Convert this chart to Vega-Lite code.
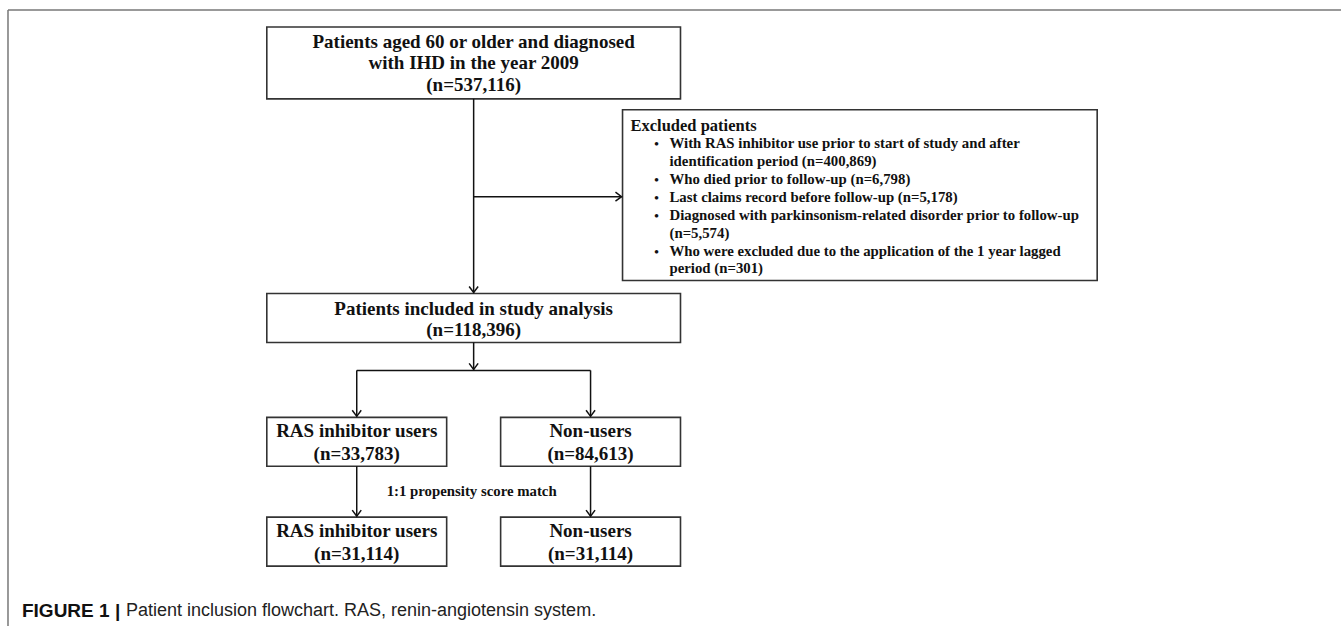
{
  "$schema": "https://vega.github.io/schema/vega-lite/v6.json",
  "width": 1342,
  "height": 627,
  "autosize": {"type": "fit", "contains": "padding"},
  "padding": 0,
  "background": "white",
  "config": {"view": {"stroke": null}},
  "datasets": {
    "frame": [
      {"x": 8, "y": 10, "x2": 1342, "y2": 10},
      {"x": 8, "y": 10, "x2": 8, "y2": 627}
    ],
    "boxes": [
      {"x": 267, "x2": 681, "y": 27, "y2": 99},
      {"x": 623, "x2": 1098, "y": 110, "y2": 281},
      {"x": 267, "x2": 681, "y": 294, "y2": 343},
      {"x": 267, "x2": 447, "y": 418, "y2": 467},
      {"x": 501, "x2": 681, "y": 418, "y2": 467},
      {"x": 267, "x2": 447, "y": 518, "y2": 567},
      {"x": 501, "x2": 681, "y": 518, "y2": 567}
    ],
    "lines": [
      {"x": 474, "y": 99, "x2": 474, "y2": 293},
      {"x": 474, "y": 197, "x2": 622, "y2": 197},
      {"x": 474, "y": 343, "x2": 474, "y2": 370},
      {"x": 357, "y": 371, "x2": 591, "y2": 371},
      {"x": 357, "y": 371, "x2": 357, "y2": 417},
      {"x": 591, "y": 371, "x2": 591, "y2": 417},
      {"x": 357, "y": 467, "x2": 357, "y2": 517},
      {"x": 591, "y": 467, "x2": 591, "y2": 517}
    ],
    "arrows": [
      {"x": 474, "y": 293, "dir": 0},
      {"x": 622, "y": 197, "dir": -90},
      {"x": 474, "y": 370, "dir": 0},
      {"x": 357, "y": 417, "dir": 0},
      {"x": 591, "y": 417, "dir": 0},
      {"x": 357, "y": 517, "dir": 0},
      {"x": 591, "y": 517, "dir": 0}
    ],
    "heads": [
      {"x": 474, "y": 42, "t": "Patients aged 60 or older and diagnosed"},
      {"x": 474, "y": 63, "t": "with IHD in the year 2009"},
      {"x": 474, "y": 85, "t": "(n=537,116)"},
      {"x": 474, "y": 309, "t": "Patients included in study analysis"},
      {"x": 474, "y": 331, "t": "(n=118,396)"},
      {"x": 357, "y": 432, "t": "RAS inhibitor users"},
      {"x": 357, "y": 455, "t": "(n=33,783)"},
      {"x": 591, "y": 432, "t": "Non-users"},
      {"x": 591, "y": 455, "t": "(n=84,613)"},
      {"x": 357, "y": 532, "t": "RAS inhibitor users"},
      {"x": 357, "y": 555, "t": "(n=31,114)"},
      {"x": 591, "y": 532, "t": "Non-users"},
      {"x": 591, "y": 555, "t": "(n=31,114)"}
    ],
    "exclHead": [
      {"x": 631, "y": 126, "t": "Excluded patients"}
    ],
    "excl": [
      {"x": 670, "y": 144, "t": "With RAS inhibitor use prior to start of study and after"},
      {"x": 670, "y": 162, "t": "identification period (n=400,869)"},
      {"x": 670, "y": 180, "t": "Who died prior to follow-up (n=6,798)"},
      {"x": 670, "y": 198, "t": "Last claims record before follow-up (n=5,178)"},
      {"x": 670, "y": 216, "t": "Diagnosed with parkinsonism-related disorder prior to follow-up"},
      {"x": 670, "y": 234, "t": "(n=5,574)"},
      {"x": 670, "y": 252, "t": "Who were excluded due to the application of the 1 year lagged"},
      {"x": 670, "y": 269, "t": "period (n=301)"}
    ],
    "bullets": [
      {"x": 657, "y": 144, "t": "•"},
      {"x": 657, "y": 180, "t": "•"},
      {"x": 657, "y": 198, "t": "•"},
      {"x": 657, "y": 216, "t": "•"},
      {"x": 657, "y": 252, "t": "•"}
    ],
    "match": [
      {"x": 472, "y": 493, "t": "1:1 propensity score match"}
    ],
    "capBold": [
      {"x": 22, "y": 612, "t": "FIGURE 1 |"}
    ],
    "capText": [
      {"x": 126, "y": 612, "t": "Patient inclusion flowchart. RAS, renin-angiotensin system."}
    ]
  },
  "encoding": {
    "x": {"field": "x", "type": "quantitative", "scale": {"domain": [0, 1342], "nice": false, "zero": false}, "axis": null},
    "y": {"field": "y", "type": "quantitative", "scale": {"domain": [0, 627], "nice": false, "zero": false, "reverse": true}, "axis": null}
  },
  "layer": [
    {
      "data": {"name": "frame"},
      "mark": {"type": "rule", "color": "#777777", "strokeWidth": 1.5},
      "encoding": {"x2": {"field": "x2"}, "y2": {"field": "y2"}}
    },
    {
      "data": {"name": "boxes"},
      "mark": {"type": "rect", "fill": "white", "stroke": "#333333", "strokeWidth": 1.6},
      "encoding": {"x2": {"field": "x2"}, "y2": {"field": "y2"}}
    },
    {
      "data": {"name": "lines"},
      "mark": {"type": "rule", "color": "#111111", "strokeWidth": 1.5},
      "encoding": {"x2": {"field": "x2"}, "y2": {"field": "y2"}}
    },
    {
      "data": {"name": "arrows"},
      "mark": {"type": "point", "shape": "M-1,-1.35L0,0L1,-1.35", "filled": false, "stroke": "#111111", "strokeWidth": 1.5, "size": 81, "opacity": 1},
      "encoding": {"angle": {"field": "dir", "type": "quantitative", "scale": null}}
    },
    {
      "data": {"name": "heads"},
      "mark": {"type": "text", "font": "Liberation Serif", "fontWeight": "bold", "fontSize": 19, "align": "center", "baseline": "middle", "color": "#111111"},
      "encoding": {"text": {"field": "t"}}
    },
    {
      "data": {"name": "exclHead"},
      "mark": {"type": "text", "font": "Liberation Serif", "fontWeight": "bold", "fontSize": 16.5, "align": "left", "baseline": "middle", "color": "#111111"},
      "encoding": {"text": {"field": "t"}}
    },
    {
      "data": {"name": "excl"},
      "mark": {"type": "text", "font": "Liberation Serif", "fontWeight": "bold", "fontSize": 14.8, "align": "left", "baseline": "middle", "color": "#111111"},
      "encoding": {"text": {"field": "t"}}
    },
    {
      "data": {"name": "bullets"},
      "mark": {"type": "text", "font": "Liberation Serif", "fontWeight": "bold", "fontSize": 13, "align": "center", "baseline": "middle", "color": "#111111"},
      "encoding": {"text": {"field": "t"}}
    },
    {
      "data": {"name": "match"},
      "mark": {"type": "text", "font": "Liberation Serif", "fontWeight": "bold", "fontSize": 14.8, "align": "center", "baseline": "middle", "color": "#111111"},
      "encoding": {"text": {"field": "t"}}
    },
    {
      "data": {"name": "capBold"},
      "mark": {"type": "text", "font": "Liberation Sans", "fontWeight": "bold", "fontSize": 19, "align": "left", "baseline": "middle", "color": "#111111"},
      "encoding": {"text": {"field": "t"}}
    },
    {
      "data": {"name": "capText"},
      "mark": {"type": "text", "font": "Liberation Sans", "fontSize": 18, "align": "left", "baseline": "middle", "color": "#222222"},
      "encoding": {"text": {"field": "t"}}
    }
  ]
}
